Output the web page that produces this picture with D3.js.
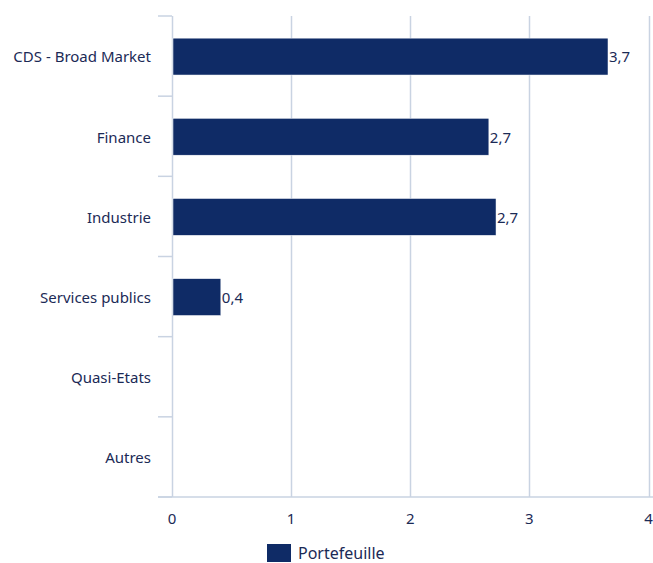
<!DOCTYPE html>
<html>
<head>
<meta charset="utf-8">
<script src="https://cdn.jsdelivr.net/npm/d3@7"></script>
<style>
  body { margin: 0; background: #fff; }
  text { font-family: "Noto Sans", sans-serif; fill: #1b2a56; }
</style>
</head>
<body>
<div class="chart"></div>
<script>
// data
var categories = ["CDS - Broad Market", "Finance", "Industrie", "Services publics", "Quasi-Etats", "Autres"];
var values = [3.66, 2.66, 2.72, 0.41, null, null];
var xTicks = [0, 1, 2, 3, 4];
var seriesName = "Portefeuille";

var W = 653, H = 563;
var margin = { top: 16, right: 4, bottom: 66, left: 172 },
    width = W - margin.left - margin.right,
    height = H - margin.top - margin.bottom;

var barColor = "#0f2b66",
    gridColor = "#c9d3e2";

var svg = d3.select(".chart").append("svg")
    .attr("width", W)
    .attr("height", H);

var g = svg.append("g")
    .attr("transform", "translate(" + margin.left + "," + margin.top + ")");

var x = d3.scaleLinear().domain([0, 4]).range([0, width - 0.5]);
var y = d3.scaleBand().domain(categories).range([0, height]).paddingInner(0.54).paddingOuter(0.27);
var yEdge = d3.scaleLinear().domain([0, categories.length]).range([0, height]);

// vertical gridlines
g.selectAll("line.grid")
    .data(xTicks)
    .enter().append("line")
    .attr("class", "grid")
    .attr("x1", function (d) { return Math.round(x(d)) + 0.5; })
    .attr("x2", function (d) { return Math.round(x(d)) + 0.5; })
    .attr("y1", 0)
    .attr("y2", height)
    .attr("stroke", gridColor)
    .attr("stroke-width", 1.5);

// category separator ticks on the left
g.selectAll("line.sep")
    .data(d3.range(categories.length + 1))
    .enter().append("line")
    .attr("class", "sep")
    .attr("x1", -14)
    .attr("x2", 0)
    .attr("y1", function (d) { return yEdge(d); })
    .attr("y2", function (d) { return yEdge(d); })
    .attr("stroke", gridColor)
    .attr("stroke-width", 1.5);

// bottom axis line
g.append("line")
    .attr("x1", -14)
    .attr("x2", width + margin.right)
    .attr("y1", height)
    .attr("y2", height)
    .attr("stroke", gridColor)
    .attr("stroke-width", 1.5);

// bars
var rows = categories.map(function (c, i) { return { cat: c, v: values[i] }; })
    .filter(function (d) { return d.v != null; });

g.selectAll("rect.bar")
    .data(rows)
    .enter().append("rect")
    .attr("class", "bar")
    .attr("x", x(0) + 1)
    .attr("y", function (d) { return y(d.cat) + 0.5; })
    .attr("width", function (d) { return x(d.v) - x(0) - 1; })
    .attr("height", y.bandwidth())
    .attr("fill", barColor)
    .attr("stroke", "#fff")
    .attr("stroke-width", 0.5);

// value labels
g.selectAll("text.val")
    .data(rows)
    .enter().append("text")
    .attr("class", "val")
    .attr("x", function (d) { return x(d.v) + 1; })
    .attr("y", function (d) { return y(d.cat) + y.bandwidth() / 2 + 1; })
    .attr("dy", "0.35em")
    .style("font-size", "15px")
    .text(function (d) { return d3.format(".1f")(d.v).replace(".", ","); });

// category labels
g.selectAll("text.cat")
    .data(categories)
    .enter().append("text")
    .attr("class", "cat")
    .attr("x", -21)
    .attr("y", function (d) { return y(d) + y.bandwidth() / 2 + 1; })
    .attr("dy", "0.35em")
    .attr("text-anchor", "end")
    .style("font-size", "15px")
    .text(function (d) { return d; });

// x tick labels
g.selectAll("text.tick")
    .data(xTicks)
    .enter().append("text")
    .attr("class", "tick")
    .attr("x", function (d) { return x(d); })
    .attr("y", height + 22)
    .attr("dy", "0.35em")
    .attr("text-anchor", "middle")
    .style("font-size", "15px")
    .text(function (d) { return d; });

// legend
var legend = svg.append("g").attr("transform", "translate(267,544)");
legend.append("rect")
    .attr("width", 24)
    .attr("height", 18)
    .attr("fill", barColor);
legend.append("text")
    .attr("x", 31)
    .attr("y", 9)
    .attr("dy", "0.35em")
    .style("font-size", "16px")
    .text(seriesName);
</script>
</body>
</html>
